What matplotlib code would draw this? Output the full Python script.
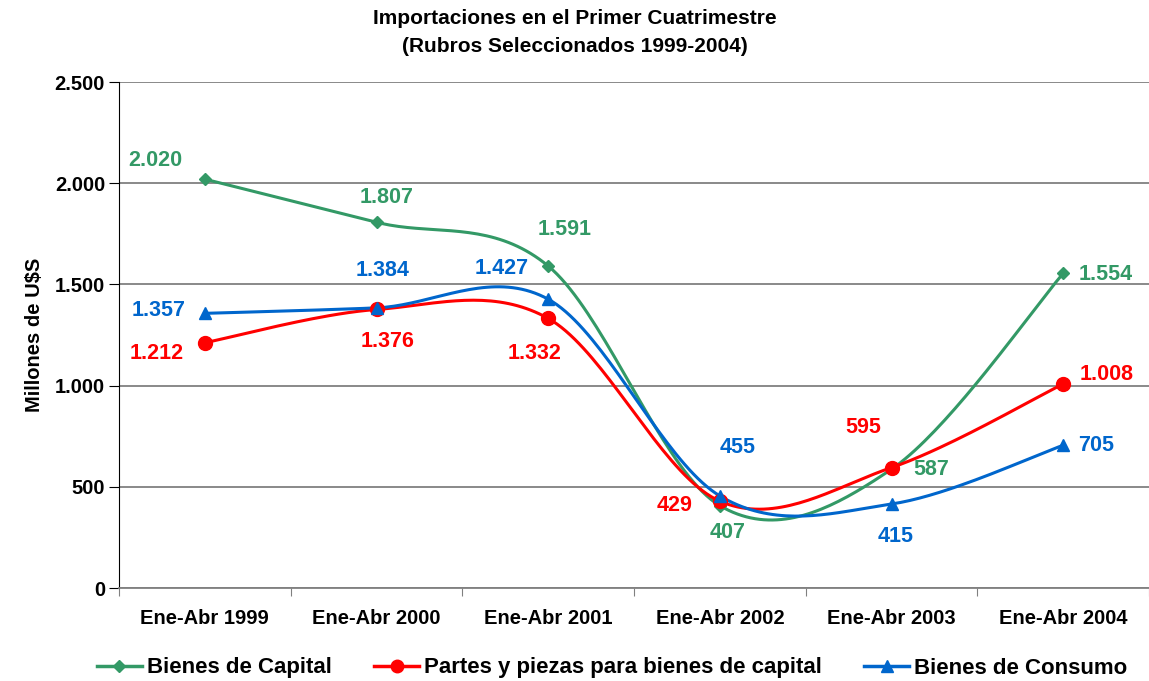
import numpy as np
import matplotlib
matplotlib.use("Agg")
import matplotlib.pyplot as plt
from matplotlib.lines import Line2D

plt.rcParams['font.family'] = ['Liberation Sans', 'DejaVu Sans']
plt.rcParams['font.weight'] = 'bold'

# Data
periods = ['Ene-Abr 1999', 'Ene-Abr 2000', 'Ene-Abr 2001',
           'Ene-Abr 2002', 'Ene-Abr 2003', 'Ene-Abr 2004']
capital = [2020, 1807, 1591, 407, 587, 1554]
partes = [1212, 1376, 1332, 429, 595, 1008]
consumo = [1357, 1384, 1427, 455, 415, 705]

names = ['Bienes de Capital', 'Partes y piezas para bienes de capital',
         'Bienes de Consumo']
colors = ['#339966', '#FF0000', '#0066CC']
markers = ['D', 'o', '^']
msizes = [6.5, 10, 9]

# label offsets in pixels (dx, dy)
offsets = [
    [(-50, 19), (10, 25), (16, 36), (8, -27), (40, 0), (43, -1)],
    [(-48, -11), (11, -32), (-14, -35), (-45, -4), (-28, 40), (43, 9)],
    [(-46, 3), (6, 37), (-46, 31), (18, 48), (4, -32), (33, 0)],
]


def fmt(v):
    return f"{v:,}".replace(',', '.')


# Catmull-Rom smoothing like Excel's smoothed lines (done in pixel-like space)
def smooth(x, y, yscale, n=40):
    x = np.asarray(x, float)
    y = np.asarray(y, float) * yscale
    px = np.concatenate([[x[0]], x, [x[-1]]])
    py = np.concatenate([[y[0]], y, [y[-1]]])
    xs, ys = [], []
    for i in range(1, len(px) - 2):
        p0 = np.array([px[i], py[i]])
        p3 = np.array([px[i + 1], py[i + 1]])
        c1 = p0 + (np.array([px[i + 1], py[i + 1]]) - np.array([px[i - 1], py[i - 1]])) / 6
        c2 = p3 - (np.array([px[i + 2], py[i + 2]]) - np.array([px[i], py[i]])) / 6
        t = np.linspace(0, 1, n)[:, None]
        b = ((1 - t) ** 3) * p0 + 3 * ((1 - t) ** 2) * t * c1 + 3 * (1 - t) * t ** 2 * c2 + t ** 3 * p3
        xs.extend(b[:, 0])
        ys.extend(b[:, 1])
    return np.array(xs), np.array(ys) / yscale


fig = plt.figure(figsize=(11.49, 6.81), dpi=100)
ax = fig.add_axes([119 / 1149, 1 - 588 / 681, (1149 - 119) / 1149, (588 - 82) / 681])

xs = np.arange(len(periods))
yscale = (506 / 2500) / 172.4
for series, c, m, ms, name, offs in zip([capital, partes, consumo], colors,
                                        markers, msizes, names, offsets):
    sx, sy = smooth(xs, series, yscale)
    ax.plot(sx, sy, color=c, lw=2.2, zorder=3)
    ax.plot(xs, series, linestyle='none', marker=m, color=c, ms=ms, zorder=4)
    for xi, v, (dx, dy) in zip(xs, series, offs):
        ax.annotate(fmt(v), (xi, v), xytext=(dx, dy), textcoords='offset pixels',
                    ha='center', va='center', color=c, fontsize=15.5,
                    fontweight='bold', zorder=5)

ax.set_xlim(-0.5, 5.5 - 4 / 172.4)
ax.set_ylim(0, 2500)
ax.set_yticks(np.arange(0, 2501, 500))
ax.set_yticklabels([fmt(v) for v in range(0, 2501, 500)], fontsize=14.5)
ax.yaxis.grid(True, color='#808080', lw=1.3)
ax.set_axisbelow(True)
ax.set_xticks(np.arange(-0.5, 5.6, 1))
ax.set_xticklabels([])
ax.set_xticks(xs, minor=True)
ax.set_xticklabels(periods, minor=True, fontsize=14.5)
ax.tick_params(axis='x', which='minor', length=0, pad=15)
ax.tick_params(axis='x', which='major', length=6, color='#808080')
ax.tick_params(axis='y', length=7, pad=3)
for s in ['top', 'right']:
    ax.spines[s].set_visible(False)
ax.spines['bottom'].set_color('#808080')
ax.spines['bottom'].set_linewidth(1.3)
ax.spines['left'].set_color('black')
ax.set_ylabel('Millones de U$S', fontsize=14.5, fontweight='bold', labelpad=8)

fig.text(0.5, 1 - 18 / 681, 'Importaciones en el Primer Cuatrimestre',
         ha='center', va='center', fontsize=15, fontweight='bold')
fig.text(0.5, 1 - 46 / 681, '(Rubros Seleccionados 1999-2004)',
         ha='center', va='center', fontsize=15, fontweight='bold')

handles = [Line2D([], [], color=c, lw=2.5, marker=m, ms=ms * 0.9)
           for c, m, ms in zip(colors, markers, msizes)]
fig.legend(handles, names, loc='center', bbox_to_anchor=(0.533, 1 - 668 / 681),
           ncol=3, frameon=False, fontsize=16, handlelength=2.0,
           columnspacing=1.9, handletextpad=0.25)

fig.savefig('out.png', dpi=100)
